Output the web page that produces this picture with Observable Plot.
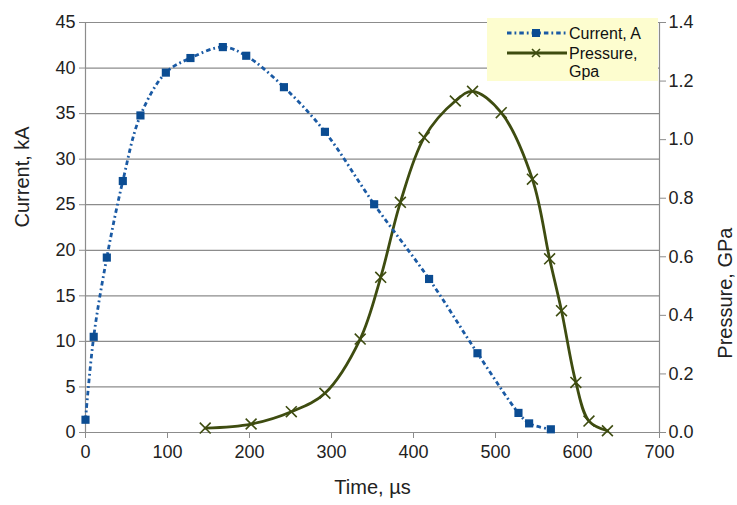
<!DOCTYPE html>
<html><head><meta charset="utf-8">
<script src="https://cdn.jsdelivr.net/npm/d3@7"></script>
<script src="https://cdn.jsdelivr.net/npm/@observablehq/plot@0.6"></script>
<style>body{margin:0;background:#fff}</style>
</head><body><div id="chart"></div>
<script>
// Current, kA vs time (µs)
const timeCurrent = [0, 10, 26, 45.5, 67, 98, 128, 167.5, 196, 242, 292, 352, 419, 478, 528, 541, 567.5];
const currentKA   = [1.4, 10.5, 19.2, 27.6, 34.8, 39.5, 41.1, 42.3, 41.35, 37.9, 33.0, 25.05, 16.85, 8.7, 2.15, 1.0, 0.35];
// Pressure, GPa vs time (µs)
const timePressure = [146, 202, 251, 292, 335, 360, 384, 413, 451, 472, 507, 545, 566, 580.5, 598, 614, 636.5];
const pressureGPa  = [0.015, 0.029, 0.071, 0.134, 0.319, 0.53, 0.786, 1.007, 1.132, 1.165, 1.092, 0.865, 0.593, 0.416, 0.171, 0.039, 0.006];
// ticks
const xTicks = [0, 100, 200, 300, 400, 500, 600, 700];
const leftTicks = [0, 5, 10, 15, 20, 25, 30, 35, 40, 45];
const rightTicks = [0, 0.2, 0.4, 0.6, 0.8, 1.0, 1.2, 1.4];

const k = 45 / 1.4;
const cur = timeCurrent.map((t, i) => ({t, v: currentKA[i]}));
const pre = timePressure.map((t, i) => ({t, v: pressureGPa[i] * k}));

const gray = "#8c8c8c";
const blue = "#0b4c92";
const blueLine = "#1a5aa4";
const olive = "#3e4c10";
const dash = "4.5,3,1.8,3";
const font = "'Liberation Sans', Arial, sans-serif";

const plot = Plot.plot({
  width: 737, height: 505,
  marginLeft: 85, marginRight: 78, marginTop: 22, marginBottom: 73,
  style: {fontFamily: font, fontSize: "18px", color: "#222", background: "#fff"},
  x: {domain: [0, 700]},
  y: {domain: [0, 45]},
  marks: [
    Plot.gridY(leftTicks, {stroke: gray, strokeOpacity: 1, strokeWidth: 1.2}),
    Plot.ruleX([0], {stroke: gray, strokeWidth: 1.2}),
    Plot.ruleX([700], {stroke: gray, strokeWidth: 1.2}),
    Plot.axisX({ticks: xTicks, tickSize: 6, tickPadding: 7, stroke: gray, fill: "#222", label: null, tickFormat: d => String(d)}),
    Plot.axisY({ticks: leftTicks, tickSize: 6, tickPadding: 4, stroke: gray, fill: "#222", label: null, tickFormat: d => String(d)}),
    Plot.axisY({anchor: "right", ticks: rightTicks.map(v => v * k), tickSize: 6, tickPadding: 3, stroke: gray, fill: "#222", label: null, tickFormat: d => (d / k).toFixed(1)}),
    Plot.text(["Time, µs"], {frameAnchor: "bottom", dy: 61, fontSize: 20, fill: "#222"}),
    Plot.text(["Current, kA"], {frameAnchor: "left", rotate: -90, dx: -63, fontSize: 20, fill: "#222"}),
    Plot.text(["Pressure, GPa"], {frameAnchor: "right", rotate: -90, dx: 66, fontSize: 20, fill: "#222"}),
    Plot.line(pre, {x: "t", y: "v", curve: "catmull-rom", stroke: olive, strokeWidth: 2.8}),
    Plot.dot(pre, {x: "t", y: "v", symbol: "times", r: 5, stroke: olive, strokeWidth: 1.6}),
    Plot.line(cur, {x: "t", y: "v", curve: "catmull-rom", stroke: blueLine, strokeWidth: 2.8, strokeDasharray: dash, strokeLinecap: "butt"}),
    Plot.dot(cur, {x: "t", y: "v", symbol: "square", r: 4.6, fill: blue, stroke: "none"})
  ]
});

// legend box inside the plot area
const svg = d3.select(plot);
const lg = svg.append("g").attr("font-family", font).attr("font-size", 16).attr("fill", "#111").attr("text-anchor", "start");
lg.append("rect").attr("x", 487).attr("y", 18).attr("width", 171).attr("height", 63).attr("fill", "#fdfdcf");
lg.append("line").attr("x1", 507).attr("x2", 567).attr("y1", 33).attr("y2", 33)
  .attr("stroke", blueLine).attr("stroke-width", 2.8).attr("stroke-dasharray", dash);
lg.append("rect").attr("x", 532).attr("y", 29).attr("width", 8).attr("height", 8).attr("fill", blue);
lg.append("text").attr("x", 569).attr("y", 39).text("Current, A");
lg.append("line").attr("x1", 507).attr("x2", 567).attr("y1", 53).attr("y2", 53)
  .attr("stroke", olive).attr("stroke-width", 2.8);
lg.append("path").attr("d", "M532,49L540,57M532,57L540,49").attr("stroke", olive).attr("stroke-width", 1.6);
lg.append("text").attr("x", 569).attr("y", 59).text("Pressure,");
lg.append("text").attr("x", 569).attr("y", 77).text("Gpa");

document.getElementById("chart").appendChild(plot);
</script>
</body></html>
